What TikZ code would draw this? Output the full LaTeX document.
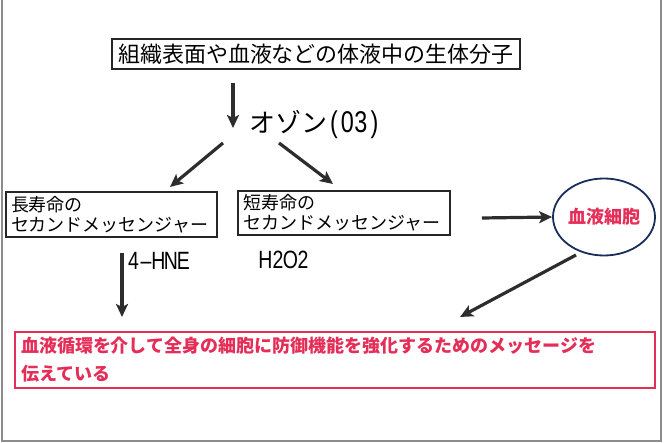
\documentclass[tikz,border=0pt]{standalone}
\usepackage{fontspec}
\setmainfont{Noto Sans CJK JP}
\newfontfamily\latn[FakeStretch=0.78]{Liberation Sans}
\usetikzlibrary{arrows.meta,shapes.geometric}
\definecolor{arrowgray}{RGB}{45,45,45}
\definecolor{pinkred}{RGB}{228,46,88}
\definecolor{navyline}{RGB}{25,45,90}
\definecolor{framegray}{RGB}{140,140,140}
\newcommand\hwc[2][12.5pt]{\makebox[#1][c]{#2}}
\begin{document}
\begin{tikzpicture}[x=1pt,y=-1pt,
  arr/.style={draw=arrowgray,line width=3.2pt,-{Stealth[length=13pt,width=12pt,inset=3pt]}},
  bbox/.style={draw=black!85,line width=1.2pt,rectangle,inner sep=0pt},
  twoline/.style={bbox,align=left,inner xsep=5pt,text width=201pt,minimum height=45pt,
    font=\fontsize{18pt}{20pt}\selectfont},
  latin/.style={inner sep=0pt,anchor=west,font=\latn\fontsize{25pt}{27pt}\selectfont}]
\useasboundingbox (0,0) rectangle (665,443);
% frame
\draw[framegray,line width=1.2pt] (2,0) -- (2,441) -- (661,441) -- (661,0);
% nodes
\node[bbox,minimum width=408pt,minimum height=30pt,font=\fontsize{22pt}{26pt}\selectfont]
  (top) at (316,54) {組織表面や血液などの体液中の生体分子};
\node[inner sep=0pt,anchor=west,font=\fontsize{26pt}{30pt}\selectfont]
  (ozone) at (249,125) {オゾン{\latn\fontsize{30pt}{32pt}\selectfont\hwc[13.5pt]{(}\hwc[13.5pt]{0}\hwc[13.5pt]{3}\hwc[13.5pt]{)}}};
\node[twoline] (long) at (111.5,214.5) {長寿命の\\セカンドメッセンジャー};
\node[twoline,text width=202pt,minimum height=44pt] (short) at (344,213) {短寿命の\\セカンドメッセンジャー};
\node[ellipse,draw=navyline,line width=1.8pt,minimum width=102pt,minimum height=77pt,inner sep=0pt,
  text=pinkred,font=\bfseries\fontsize{18pt}{20pt}\selectfont] (cell) at (604,217) {血液細胞};
\node[latin] (hne) at (127,261) {\hwc{4}\hwc{–}\hwc{H}\hwc{N}\hwc{E}};
\node[latin] (hoo) at (259,260) {\hwc{H}\hwc{2}\hwc{O}\hwc{2}};
\node[draw=pinkred,line width=1.8pt,rectangle,inner sep=0pt,inner xsep=6pt,align=left,
  text width=628pt,minimum height=56pt,text=pinkred,
  font=\bfseries\fontsize{18pt}{28pt}\selectfont] (msg) at (335,360)
  {血液循環を介して全身の細胞に防御機能を強化するためのメッセージを\\伝えている};
% arrow end points
\coordinate (a1s) at (233,83);  \coordinate (a1e) at (233,128);
\coordinate (a2s) at (223,143); \coordinate (a2e) at (170,187);
\coordinate (a3s) at (279,143); \coordinate (a3e) at (333,184);
\coordinate (a4s) at (482,218);
\coordinate (a5s) at (576,255); \coordinate (a5e) at (460,317);
\coordinate (a6s) at (122,253); \coordinate (a6e) at (122,317);
% connectors
\draw[arr] (a1s) -- (a1e);
\draw[arr] (a2s) -- (a2e);
\draw[arr] (a3s) -- (a3e);
\draw[arr] (a4s) -- (cell.west);
\draw[arr] (a5s) -- (a5e);
\draw[arr] (a6s) -- (a6e);
\end{tikzpicture}
\end{document}
